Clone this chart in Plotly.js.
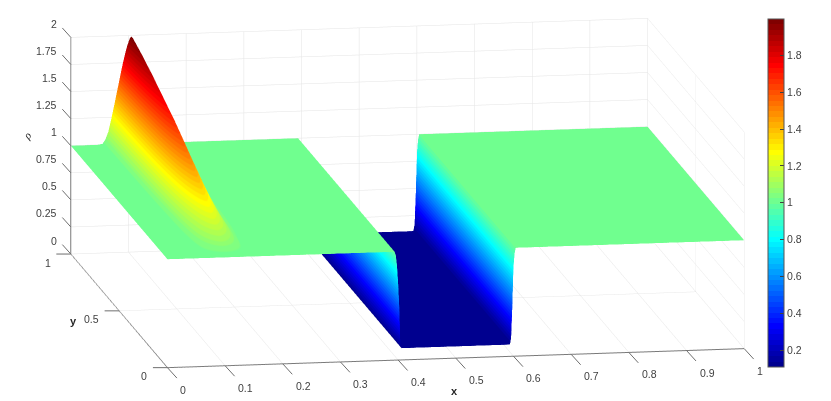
<!DOCTYPE html>
<html><head><meta charset="utf-8">
<script src="https://cdn.plot.ly/plotly-3.0.1.min.js"></script>
<style>html,body{margin:0;padding:0;background:#fff}</style></head>
<body><div id="chart" style="width:831px;height:401px"></div>
<script>
// grid along x, with the surface values
var xGrid = [0,0.035,0.045,0.055,0.06,0.065,0.07,0.075,0.08,0.085,0.09,0.095,0.0975,0.1,0.1025,0.105,0.1075,0.11,0.1125,0.115,0.12,0.125,0.13,0.135,0.14,0.145,0.155,0.165,0.175,0.2,0.3,
  0.39,0.392,0.394,0.396,0.398,0.4,0.402,0.404,0.406,0.408,0.41,0.5,
  0.59,0.592,0.594,0.596,0.598,0.6,0.602,0.604,0.606,0.608,0.61,0.8,1];
// plateau, floor and wall level at each x
var baseLevel = [1,1,1,1,1,1,1,1,1,1,1,1,1,1,1,1,1,1,1,1,1,1,1,1,1,1,1,1,1,1,1,
  1,1,1,0.97,0.88,0.72,0.5,0.13,0.108,0.108,0.108,0.108,
  0.108,0.108,0.112,0.17,0.45,0.82,0.95,1,1,1,1,1,1];
// ridge cross-section at each x (share of crest height)
var ridgeShape = [0,0,0,0.008,0.05,0.12,0.235,0.36,0.49,0.62,0.75,0.86,0.91,0.95,0.985,1,0.985,0.95,0.91,0.86,0.75,0.62,0.49,0.36,0.235,0.12,0.05,0.01,0,0,0,
  0,0,0,0,0,0,0,0,0,0,0,0,
  0,0,0,0,0,0,0,0,0,0,0,0,0];
// rows along y and the ridge crest height above the plateau on each
var yGrid = [0,0.02,0.04,0.07,0.1,0.15,0.2,0.25,0.3,0.4,0.5,0.6,0.7,0.8,0.9,1];
var crestHeight = [0,0.015,0.04,0.08,0.12,0.19,0.25,0.31,0.37,0.49,0.6,0.7,0.78,0.86,0.93,0.99];

var xTicks = [0,0.1,0.2,0.3,0.4,0.5,0.6,0.7,0.8,0.9,1];
var xLabels = ['0','0.1','0.2','0.3','0.4','0.5','0.6','0.7','0.8','0.9','1'];
var yTicks = [0,0.5,1];
var yLabels = ['0','0.5','1'];
var zTicks = [0,0.25,0.5,0.75,1,1.25,1.5,1.75,2];
var zLabels = ['0','0.25','0.5','0.75','1','1.25','1.5','1.75','2'];
var barTicks = [0.2,0.4,0.6,0.8,1,1.2,1.4,1.6,1.8];
var barLabels = ['0.2','0.4','0.6','0.8','1','1.2','1.4','1.6','1.8'];

var zGrid = yGrid.map(function(_, j){
  return xGrid.map(function(_, i){ return baseLevel[i] + crestHeight[j]*ridgeShape[i]; });
});

// 64-step jet colormap
function jet(t){
  function c(v){ return Math.round(255*Math.max(0,Math.min(1,v))); }
  var r=1.5-Math.abs(4*t-3), g=1.5-Math.abs(4*t-2), b=1.5-Math.abs(4*t-1);
  return 'rgb('+c(r)+','+c(g)+','+c(b)+')';
}
var jetSteps = [];
for (var k=0;k<64;k++){
  var col = jet((k+1)/64);
  jetSteps.push([k/64,col]); jetSteps.push([(k+1)/64,col]);
}

var tickFont = {family:'Liberation Sans, Arial, sans-serif', size:10.5, color:'#404040'};
var tickColor = '#6e6e6e';

function axis(vals, range){
  return {
    title:{text:''},
    range:range, autorange:false, tickmode:'array', tickvals:vals, showticklabels:false,
    showgrid:true, gridcolor:'#e4e4e4', gridwidth:1,
    showline:true, linecolor:'#7a7a7a', linewidth:2,
    ticks:'',
    zeroline:false, showbackground:false, showspikes:false
  };
}

// the slanted ticks and their labels, pinned to the scene's data coordinates
var notes = [];
function addTick(p, ax, ay, label, anchor, xs, ys){
  notes.push({x:p[0],y:p[1],z:p[2],text:' ',showarrow:true,arrowhead:0,arrowwidth:1,arrowcolor:tickColor,
    ax:ax,ay:ay,standoff:0,borderpad:0,font:{size:1}});
  notes.push({x:p[0],y:p[1],z:p[2],text:label,showarrow:false,xanchor:anchor,yanchor:'middle',
    xshift:xs,yshift:ys,borderpad:0,font:tickFont});
}
xTicks.forEach(function(v,i){ addTick([v,0,0],10,11,xLabels[i],'left',12,-22); });
yTicks.forEach(function(v,i){ addTick([0,v,0],-15,0,yLabels[i],'right',-19,-8.5); });
zTicks.forEach(function(v,i){ addTick([0,1,v],-9,-10,zLabels[i],'right',-12.5,13.5); });
notes.push({x:0.5,y:0,z:0,text:'<b>x</b>',showarrow:false,xshift:-1.8,yshift:-32.5,
  font:{family:'Liberation Sans, Arial, sans-serif',size:11,color:'#262626'}});
notes.push({x:0,y:0.5,z:0,text:'<b>y</b>',showarrow:false,xshift:-46,yshift:-10,
  font:{family:'Liberation Sans, Arial, sans-serif',size:11,color:'#262626'}});
notes.push({x:0,y:1,z:1,text:'<i>ρ</i>',showarrow:false,xshift:-44.3,yshift:9.5,textangle:-50,
  font:{family:'Liberation Serif, serif',size:11,color:'#262626'}});

Plotly.newPlot('chart',[{
  type:'surface', x:xGrid, y:yGrid, z:zGrid,
  cmin:0.108, cmax:1.998, colorscale:jetSteps,
  lighting:{ambient:1,diffuse:0,specular:0,roughness:1,fresnel:0},
  hoverinfo:'skip',
  colorbar:{
    x:767.5/831, xanchor:'left', xpad:0, ypad:0,
    y:(401-367)/401, yanchor:'bottom', len:348/401, lenmode:'fraction',
    thickness:16, thicknessmode:'pixels',
    tickmode:'array', tickvals:barTicks, ticktext:barLabels,
    ticks:'inside', ticklen:4, tickcolor:'#404040', tickwidth:1,
    tickfont:tickFont,
    outlinecolor:'#555555', outlinewidth:1, borderwidth:0
  }
}],{
  width:831, height:401, paper_bgcolor:'#fff',
  margin:{l:0,r:0,t:0,b:0},
  scene:{
    domain:{x:[0,815/831], y:[15/401,1]},
    aspectmode:'manual', aspectratio:{x:3.03,y:3.03,z:1.145},
    camera:{projection:{type:'orthographic'}, up:{x:0,y:0,z:1}, center:{x:0,y:0,z:0},
      eye:{x:-0.81,y:-4.835,z:0.985}},
    xaxis:axis(xTicks,[0,1]),
    yaxis:axis(yTicks,[0,1]),
    zaxis:axis(zTicks,[0,2]),
    annotations:notes
  }
},{displayModeBar:false});
</script></body></html>
